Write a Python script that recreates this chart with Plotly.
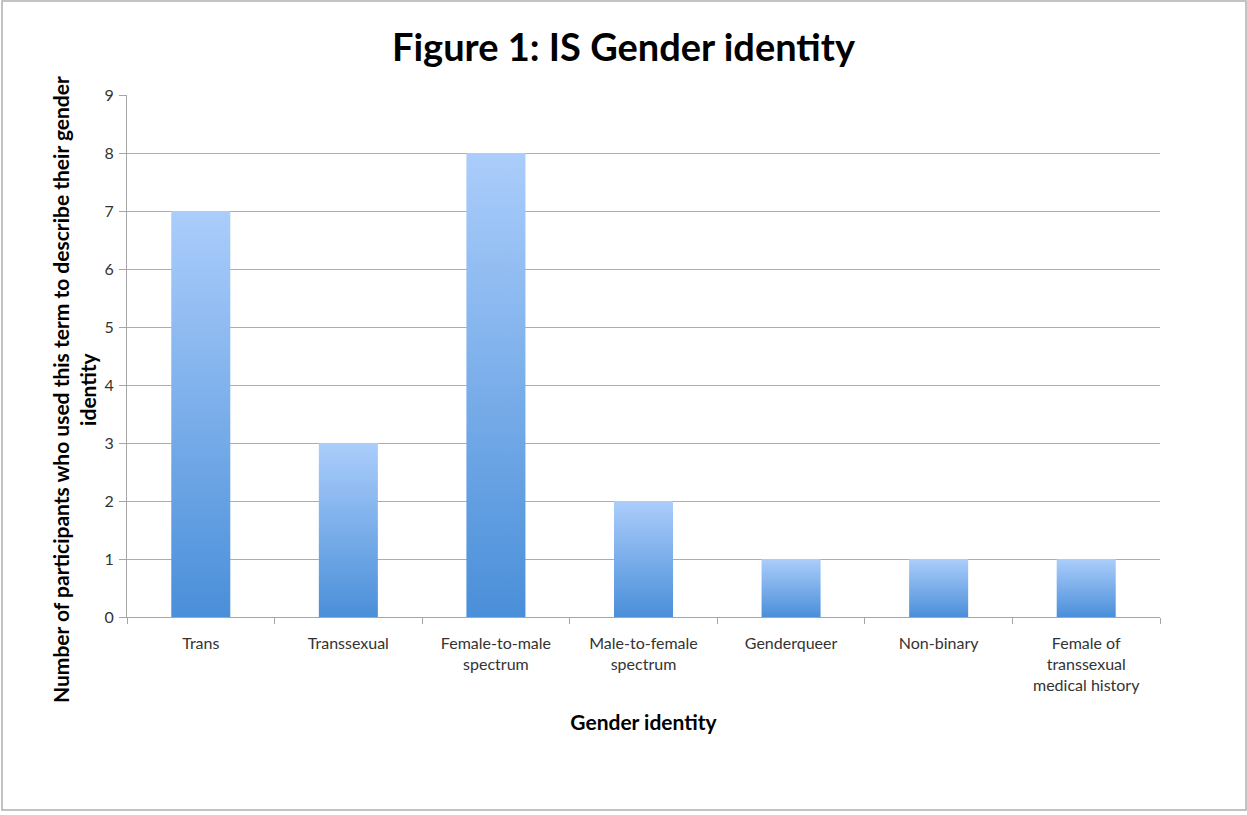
import plotly.graph_objects as go

# Gender identity terms and the number of participants using each
categories = [
    "Trans",
    "Transsexual",
    "Female-to-male<br>spectrum",
    "Male-to-female<br>spectrum",
    "Genderqueer",
    "Non-binary",
    "Female of<br>transsexual<br>medical history",
]
counts = [7, 3, 8, 2, 1, 1, 1]
y_ticks = list(range(0, 10))

W, H = 1247, 815
ML, MR, MT, MB = 127, 87, 95, 198
BAR_WIDTH = 0.4
LIGHT = "#abcdfb"
DARK = "#4a8fd9"
FONT = "Lato"

fig = go.Figure()

# each bar is a filled rectangle with a vertical gradient (dark at base, light at top)
for i, (cat, v) in enumerate(zip(categories, counts)):
    x0, x1 = i - BAR_WIDTH / 2, i + BAR_WIDTH / 2
    fig.add_trace(go.Scatter(
        x=[x0, x1, x1, x0, x0],
        y=[0, 0, v, v, 0],
        mode="lines",
        line=dict(width=0),
        fill="toself",
        fillgradient=dict(type="vertical", colorscale=[[0, DARK], [1, LIGHT]]),
        name=cat.replace("<br>", " "),
        hoverinfo="skip",
        showlegend=False,
    ))

fig.update_layout(
    width=W, height=H,
    margin=dict(l=ML, r=MR, t=MT, b=MB),
    paper_bgcolor="white",
    plot_bgcolor="white",
    font=dict(family=FONT, color="#333333"),
    title=dict(
        text="<b>Figure 1: IS Gender identity</b>",
        x=0.5, xanchor="center",
        y=1 - 48 / H, yanchor="middle",
        font=dict(family=FONT, size=38, color="black"),
    ),
    xaxis=dict(
        range=[-0.5, len(categories) - 0.5],
        tickmode="array",
        tickvals=list(range(len(categories))),
        ticktext=categories,
        ticks="",
        ticklabelstandoff=12,
        showgrid=False,
        zeroline=False,
        showline=True,
        linecolor="#a6a6a6",
        linewidth=1,
        tickfont=dict(family=FONT, size=16, color="#333333"),
        minor=dict(ticks="outside", tick0=-0.5, dtick=1, ticklen=6,
                   tickcolor="#a6a6a6", showgrid=False),
        title=dict(text="<b>Gender identity</b>", standoff=22,
                   font=dict(family=FONT, size=21, color="black")),
        fixedrange=True,
    ),
    yaxis=dict(
        range=[0, 9],
        tickmode="array",
        tickvals=y_ticks,
        ticks="outside",
        ticklen=7,
        tickcolor="#a6a6a6",
        ticklabelstandoff=2,
        showgrid=True,
        gridcolor="#adadad",
        gridwidth=1,
        zeroline=False,
        showline=True,
        linecolor="#a6a6a6",
        tickfont=dict(family=FONT, size=16, color="#333333"),
        fixedrange=True,
    ),
)

pw, ph = W - ML - MR, H - MT - MB

# vertical axis title, centred a little below the middle of the plot area
fig.add_annotation(
    text="<b>Number of participants who used this term to describe their gender<br>identity</b>",
    textangle=-90,
    xref="paper", yref="paper",
    x=(74 - ML) / pw, y=(H - MB - 390) / ph,
    xanchor="center", yanchor="middle",
    showarrow=False,
    font=dict(family=FONT, size=21, color="black"),
)

# thin grey frame around the whole chart
fig.add_shape(
    type="rect", xref="paper", yref="paper",
    x0=(2 - ML) / pw, x1=(W - 1 - ML) / pw,
    y0=-(H - 5 - MT - ph) / ph, y1=1 + (MT - 1) / ph,
    line=dict(color="#b0b0b0", width=1.5),
    layer="below",
)

fig.write_html("out.html")
